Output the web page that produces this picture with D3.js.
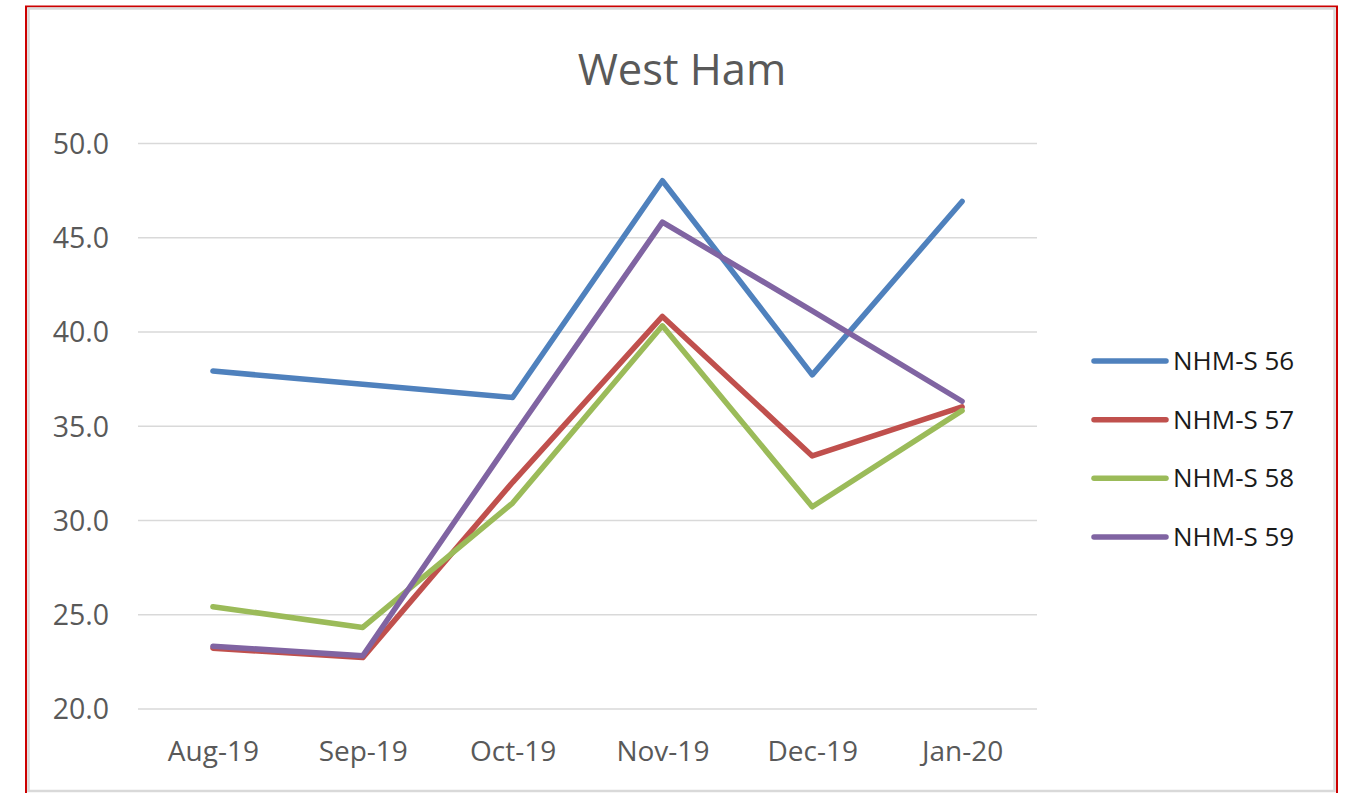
<!DOCTYPE html>
<html>
<head>
<meta charset="utf-8">
<script src="https://cdn.jsdelivr.net/npm/d3@7/dist/d3.min.js"></script>
<style>
  html, body { margin: 0; padding: 0; background: #fff; }
  svg { display: block; }
  text { font-family: "Open Sans", sans-serif; }
</style>
</head>
<body>
<svg id="chart" width="1348" height="793"></svg>
<script>
const categories = ["Aug-19", "Sep-19", "Oct-19", "Nov-19", "Dec-19", "Jan-20"];
const seriesNames = ["NHM-S 56", "NHM-S 57", "NHM-S 58", "NHM-S 59"];
const s56 = [37.9, 37.2, 36.5, 48.0, 37.7, 46.9];
const s57 = [23.2, 22.7, 32.0, 40.8, 33.4, 36.0];
const s58 = [25.4, 24.3, 30.9, 40.3, 30.7, 35.8];
const s59 = [23.3, 22.8, 34.4, 45.8, 41.1, 36.3];
const yTicks = [20, 25, 30, 35, 40, 45, 50];
const colors = ["#4F81BD", "#C0504D", "#9BBB59", "#8064A2"];
const title = "West Ham";

const seriesValues = [s56, s57, s58, s59];

const svg = d3.select("#chart");

// outer frames
svg.append("rect").attr("x", 26).attr("y", 6.5).attr("width", 1311).attr("height", 800)
  .attr("fill", "#fff").attr("stroke", "#cc0000").attr("stroke-width", 2);
svg.append("rect").attr("x", 28.5).attr("y", 8.5).attr("width", 1306).attr("height", 782.5)
  .attr("fill", "#fff").attr("stroke", "#d9d9d9").attr("stroke-width", 2.5);

const x = d3.scalePoint().domain(categories).range([138, 1037]).padding(0.5);
const y = d3.scaleLinear().domain([20, 50]).range([708.5, 143]);

// gridlines
const grid = svg.append("g").attr("transform", "translate(138,0)")
  .call(d3.axisLeft(y).tickValues(yTicks).tickSize(-899).tickFormat(""));
grid.select(".domain").remove();
grid.selectAll(".tick line").attr("stroke", "#d9d9d9").attr("stroke-width", 1.5);

// y labels
const yAxis = svg.append("g").attr("transform", "translate(109,0)")
  .call(d3.axisLeft(y).tickValues(yTicks).tickSize(0).tickPadding(0).tickFormat(d3.format(".1f")));
yAxis.select(".domain").remove();
yAxis.selectAll("text").attr("fill", "#595959").attr("font-size", 28.5)
  .attr("font-family", "Open Sans").attr("dy", "0.36em");

// x labels
const xAxis = svg.append("g").attr("transform", "translate(0,709)")
  .call(d3.axisBottom(x).tickSize(0).tickPadding(0));
xAxis.select(".domain").remove();
xAxis.selectAll("text").attr("fill", "#595959").attr("font-size", 28)
  .attr("font-family", "Open Sans").attr("dy", null).attr("y", 52);

// lines
const line = d3.line().x((d, i) => x(categories[i])).y(d => y(d));
seriesValues.forEach((vals, k) => {
  svg.append("path").datum(vals).attr("d", line)
    .attr("fill", "none").attr("stroke", colors[k]).attr("stroke-width", 5.5)
    .attr("stroke-linejoin", "round").attr("stroke-linecap", "round");
});

// title
svg.append("text").attr("x", 682).attr("y", 85).attr("text-anchor", "middle")
  .attr("font-size", 43.5).attr("fill", "#595959").text(title);

// legend
const legY = d3.scalePoint().domain(seriesNames).range([361, 537]);
const leg = svg.append("g");
seriesNames.forEach((name, k) => {
  const yy = legY(name);
  leg.append("line").attr("x1", 1094).attr("x2", 1166).attr("y1", yy).attr("y2", yy)
    .attr("stroke", colors[k]).attr("stroke-width", 5.5).attr("stroke-linecap", "round");
  leg.append("text").attr("x", 1173).attr("y", yy + 9).attr("font-size", 26)
    .attr("fill", "#1a1a1a").text(name);
});
</script>
</body>
</html>
